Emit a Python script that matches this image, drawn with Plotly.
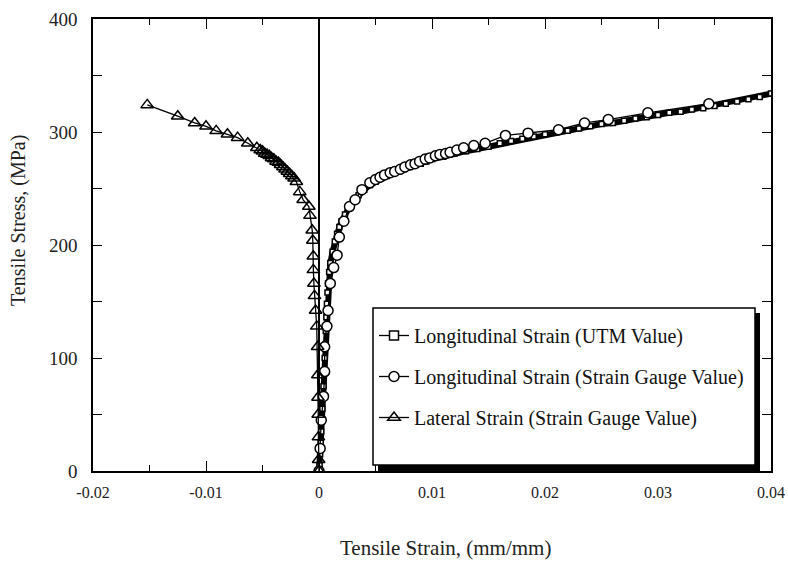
import plotly.graph_objects as go

# ---- data ----
utm_strain = [0, 0.00005, 0.0001, 0.00015, 0.0002, 0.00025, 0.0003, 0.00035, 0.0004, 0.00045,
              0.0005, 0.00055, 0.0006, 0.00065, 0.0007, 0.00075, 0.0008, 0.0009, 0.001, 0.0012,
              0.0014, 0.0016, 0.0018, 0.002, 0.0023, 0.0026, 0.003, 0.0035, 0.004, 0.0045,
              0.005, 0.0055, 0.006, 0.0065, 0.007, 0.0075, 0.008, 0.0085, 0.009, 0.0095,
              0.010, 0.011, 0.012, 0.013, 0.014, 0.015, 0.016, 0.017, 0.018, 0.019,
              0.020, 0.021, 0.022, 0.023, 0.024, 0.025, 0.026, 0.027, 0.028, 0.029,
              0.030, 0.031, 0.032, 0.033, 0.034, 0.035, 0.036, 0.037, 0.038, 0.039, 0.040]
utm_stress = [0, 5, 15, 25, 35, 45, 55, 65, 75, 88,
              100, 112, 124, 136, 148, 158, 166, 176, 184, 194,
              203, 210, 216, 221, 227, 232, 238, 244, 249, 253,
              256, 259, 261, 263, 265, 267, 269, 271, 272, 274,
              276, 278, 281, 283, 285, 287, 290, 292, 294, 296,
              298, 300, 301, 303, 305, 307, 308, 310, 312, 313,
              315, 317, 318, 320, 321, 323, 325, 327, 329, 331, 334]

gauge_strain = [0, 0.0001, 0.0002, 0.0004, 0.0005, 0.0005, 0.0007, 0.0008, 0.001, 0.0013,
                0.0016, 0.0018, 0.0022, 0.0027, 0.0032, 0.0038, 0.0045, 0.0050, 0.0054, 0.0058,
                0.0063, 0.0067, 0.0072, 0.0076, 0.0081, 0.0085, 0.0089, 0.0094, 0.0098, 0.0103,
                0.0107, 0.0112, 0.0116, 0.0122, 0.0128, 0.0137, 0.0147, 0.0165, 0.0185, 0.0212,
                0.0235, 0.0256, 0.0291, 0.0345]
gauge_stress = [0, 20, 45, 66, 88, 110, 128, 142, 166, 180,
                191, 207, 221, 234, 240, 249, 255, 258, 260, 262,
                264, 265, 267, 269, 271, 272, 274, 276, 277, 279,
                280, 281, 282, 284, 286, 288, 290, 297, 299, 302,
                308, 311, 317, 325]

lateral_strain = [0, -0.00003, -0.00005, -0.00007, -0.00009, -0.0001, -0.00012, -0.0002, -0.0003, -0.0004,
                  -0.00045, -0.0005, -0.0005, -0.00055, -0.0006, -0.0008, -0.0009, -0.0014, -0.0017, -0.002,
                  -0.0022, -0.0024, -0.0026, -0.0028, -0.003, -0.0032, -0.0034, -0.0036, -0.0038, -0.004,
                  -0.0042, -0.0044, -0.0046, -0.0048, -0.005, -0.0052, -0.0055, -0.0063, -0.0072, -0.0081,
                  -0.0091, -0.0100, -0.0110, -0.0125, -0.0152]
lateral_stress = [0, 10, 30, 50, 65, 85, 110, 128, 142, 155,
                  166, 178, 190, 204, 213, 226, 234, 240, 247, 256,
                  259, 261, 263, 265, 267, 269, 271, 273, 274, 276,
                  277, 279, 280, 281, 283, 284, 286, 290, 295, 298,
                  301, 305, 308, 314, 324]

x_tickvals = [-0.02, -0.01, 0, 0.01, 0.02, 0.03, 0.04]
x_ticktext = ["-0.02", "-0.01", "0", "0.01", "0.02", "0.03", "0.04"]
y_tickvals = [0, 100, 200, 300, 400]
y_ticktext = ["0", "100", "200", "300", "400"]

x_title = "Tensile Strain, (mm/mm)"
y_title = "Tensile Stress, (MPa)"

FONT = "Liberation Serif"

# plot-area geometry in page pixels
FW, FH = 788, 565
PL, PR, PT, PB = 93, 771, 19, 471
W, H = PR - PL, PB - PT


def px_x(p):
    return (p - PL) / W


def px_y(p):
    return (PB - p) / H


fig = go.Figure()

# UTM data: thick black band with small open squares
fig.add_trace(go.Scatter(x=utm_strain, y=utm_stress, mode="lines+markers",
                         line=dict(color="black", width=6), showlegend=False,
                         marker=dict(symbol="square", size=5, color="white",
                                     line=dict(color="black", width=1.5)),
                         hoverinfo="skip"))
# legend proxy for the UTM series
fig.add_trace(go.Scatter(x=[None], y=[None], mode="lines+markers",
                         name="Longitudinal Strain (UTM Value)", legendgroup="a",
                         line=dict(color="black", width=1.3),
                         marker=dict(symbol="square", size=9, color="white",
                                     line=dict(color="black", width=1.5))))
fig.add_trace(go.Scatter(x=gauge_strain, y=gauge_stress, mode="lines+markers",
                         name="Longitudinal Strain (Strain Gauge Value)", legendgroup="b",
                         line=dict(color="black", width=1.3),
                         marker=dict(symbol="circle", size=10, color="white",
                                     line=dict(color="black", width=1.5))))
fig.add_trace(go.Scatter(x=lateral_strain, y=lateral_stress, mode="lines+markers",
                         name="Lateral Strain (Strain Gauge Value)", legendgroup="c",
                         line=dict(color="black", width=1.3),
                         marker=dict(symbol="triangle-up-open", size=11, color="black",
                                     line=dict(width=1.5))))

# legend box: drop shadow + white framed box
fig.add_shape(type="rect", xref="paper", yref="paper",
              x0=px_x(378), x1=px_x(760), y0=px_y(471), y1=px_y(313),
              fillcolor="black", line=dict(width=0), layer="above")
fig.add_shape(type="rect", xref="paper", yref="paper",
              x0=px_x(373), x1=px_x(755), y0=px_y(465), y1=px_y(308),
              fillcolor="white", line=dict(color="black", width=1.5), layer="above")

axis_common = dict(showgrid=False, showline=True, linecolor="black", linewidth=1.5,
                   mirror="allticks", ticks="inside", tickcolor="black", tickwidth=1.2)

fig.update_xaxes(range=[-0.02, 0.04], tickvals=x_tickvals, ticktext=x_ticktext,
                 ticklen=10, zeroline=True, zerolinecolor="black", zerolinewidth=2,
                 ticklabelstandoff=6, ticklabeloverflow="allow",
                 tickfont=dict(family=FONT, size=16, color="#222"),
                 minor=dict(dtick=0.005, tick0=0, ticks="inside", ticklen=6, tickcolor="black"),
                 **axis_common)
fig.update_yaxes(range=[0, 400], tickvals=y_tickvals, ticktext=y_ticktext,
                 ticklen=9, zeroline=False, ticklabelstandoff=10,
                 tickfont=dict(family=FONT, size=19, color="#222"),
                 minor=dict(dtick=50, tick0=0, ticks="inside", ticklen=9, tickcolor="black"),
                 **axis_common)

# axis titles placed as in the reference scan
fig.add_annotation(text=x_title, xref="paper", yref="paper",
                   x=px_x(445), y=px_y(548), xanchor="center", yanchor="middle",
                   showarrow=False, font=dict(family=FONT, size=21, color="#222"))
fig.add_annotation(text=y_title, xref="paper", yref="paper",
                   x=px_x(18), y=px_y(221), xanchor="center", yanchor="middle",
                   textangle=-90, showarrow=False,
                   font=dict(family=FONT, size=20, color="#222"))

fig.update_layout(
    width=FW, height=FH,
    margin=dict(l=PL, r=FW - PR, t=PT, b=FH - PB, autoexpand=False),
    plot_bgcolor="white", paper_bgcolor="white",
    legend=dict(x=px_x(374), y=px_y(316), xanchor="left", yanchor="top",
                bgcolor="rgba(0,0,0,0)", borderwidth=0,
                font=dict(family=FONT, size=20, color="#111"),
                tracegroupgap=12, itemwidth=30),
    showlegend=True,
)

fig.write_html("out.html", config={"displayModeBar": False},
               post_script="document.body.style.margin='0px';document.body.style.overflow='hidden';")
